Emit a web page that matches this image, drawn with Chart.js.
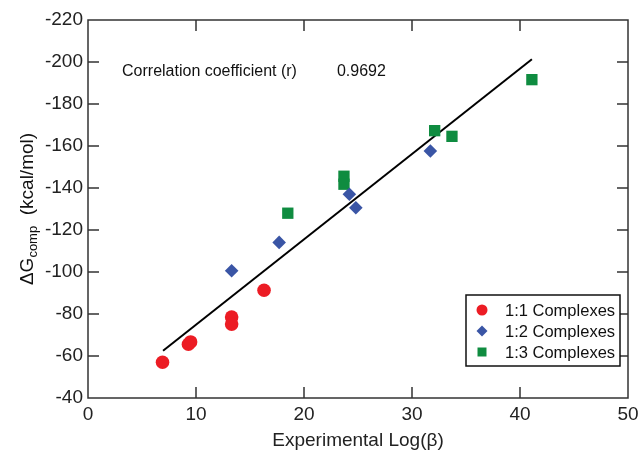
<!DOCTYPE html>
<html>
<head>
<meta charset="utf-8">
<script src="https://cdn.jsdelivr.net/npm/chart.js@4/dist/chart.umd.min.js"></script>
<style>
    body { margin: 0; background: #fff; }
    #wrap { width: 641px; height: 462px; }
</style>
</head>
<body>
<div id="wrap"><canvas id="chartGibbs" width="641" height="462"></canvas></div>
<script>
// данные
const xTicks = [0, 10, 20, 30, 40, 50];
const yTicks = [-40, -60, -80, -100, -120, -140, -160, -180, -200, -220];

const c11X = [6.9, 9.3, 9.5, 13.3, 13.3, 16.3];
const c11Y = [-57, -65.6, -66.7, -78.6, -75.2, -91.3];
const c12X = [13.3, 17.7, 24.2, 24.8, 31.7];
const c12Y = [-100.6, -114.1, -137, -130.6, -157.6];
const c13X = [18.5, 23.7, 23.7, 32.1, 33.7, 41.1];
const c13Y = [-128, -145.6, -141.8, -167.3, -164.6, -191.6];
const fitX = [6.95, 41.1];
const fitY = [-62.5, -201.3];

const seriesNames = ['1:1 Complexes', '1:2 Complexes', '1:3 Complexes'];
const seriesColors = ['#ec1c24', '#3a55a5', '#0f8c40'];
const corrLabel = 'Correlation coefficient (r)';
const corrValue = '0.9692';

const FONT = "'Liberation Sans', Arial, Helvetica, sans-serif";
const toPts = (xs, ys) => xs.map((x, i) => ({x: x, y: ys[i]}));

/*
* рамка, внутренние засечки, подписи и легенда
*/
const framePlugin = {
    id: 'frame',
    afterDraw(chart) {
        const ctx = chart.ctx;
        const a = chart.chartArea;
        const sx = chart.scales.x, sy = chart.scales.y;
        ctx.save();
        ctx.strokeStyle = '#333';
        ctx.lineWidth = 1.5;
        ctx.strokeRect(a.left, a.top, a.right - a.left, a.bottom - a.top);
        ctx.beginPath();
        xTicks.slice(1, -1).forEach(v => {
            const px = sx.getPixelForValue(v);
            ctx.moveTo(px, a.bottom); ctx.lineTo(px, a.bottom - 11);
            ctx.moveTo(px, a.top); ctx.lineTo(px, a.top + 11);
        });
        yTicks.slice(1, -1).forEach(v => {
            const py = sy.getPixelForValue(v);
            ctx.moveTo(a.left, py); ctx.lineTo(a.left + 11, py);
            ctx.moveTo(a.right, py); ctx.lineTo(a.right - 11, py);
        });
        ctx.stroke();

        // подпись коэффициента корреляции
        ctx.fillStyle = '#111';
        ctx.font = '16px ' + FONT;
        ctx.textBaseline = 'middle';
        ctx.textAlign = 'left';
        ctx.fillText(corrLabel, sx.getPixelForValue(3.15), sy.getPixelForValue(-195.5));
        ctx.fillText(corrValue, sx.getPixelForValue(23.05), sy.getPixelForValue(-195.5));

        // подпись оси Y с индексом
        ctx.save();
        ctx.translate(33, (a.top + a.bottom) / 2);
        ctx.rotate(-Math.PI / 2);
        ctx.textBaseline = 'alphabetic';
        const big = '19px ' + FONT, small = '13px ' + FONT;
        ctx.font = big; const w1 = ctx.measureText('\u0394G').width;
        ctx.font = small; const w2 = ctx.measureText('comp').width;
        ctx.font = big; const w3 = ctx.measureText('  (kcal/mol)').width;
        let x0 = -(w1 + w2 + w3) / 2;
        ctx.font = big; ctx.fillText('\u0394G', x0, 0);
        ctx.font = small; ctx.fillText('comp', x0 + w1, 4);
        ctx.font = big; ctx.fillText('  (kcal/mol)', x0 + w1 + w2, 0);
        ctx.restore();

        // легенда внутри области графика
        const lx = 466, ly = 295, lw = 154, lh = 71;
        ctx.fillStyle = '#fff';
        ctx.fillRect(lx, ly, lw, lh);
        ctx.strokeStyle = '#111';
        ctx.lineWidth = 1.5;
        ctx.strokeRect(lx, ly, lw, lh);
        ctx.font = '16.5px ' + FONT;
        seriesNames.forEach((name, i) => {
            const my = ly + 15 + i * 21;
            const mx = lx + 16;
            ctx.fillStyle = seriesColors[i];
            ctx.beginPath();
            if (i === 0) {
                ctx.arc(mx, my, 5.5, 0, Math.PI * 2);
            } else if (i === 1) {
                ctx.moveTo(mx, my - 5.5); ctx.lineTo(mx + 5.5, my);
                ctx.lineTo(mx, my + 5.5); ctx.lineTo(mx - 5.5, my);
                ctx.closePath();
            } else {
                ctx.rect(mx - 4.5, my - 4.5, 9, 9);
            }
            ctx.fill();
            ctx.fillStyle = '#111';
            ctx.fillText(name, lx + 39, my + 1);
        });
        ctx.restore();
    }
};

document.addEventListener('DOMContentLoaded', () => {
    new Chart(
        document.getElementById('chartGibbs'),
        {
            type: 'scatter',
            data: {
                datasets: [
                    {
                        label: seriesNames[0],
                        data: toPts(c11X, c11Y),
                        pointStyle: 'circle',
                        pointRadius: 6.8,
                        backgroundColor: seriesColors[0],
                        borderWidth: 0
                    },
                    {
                        label: seriesNames[1],
                        data: toPts(c12X, c12Y),
                        pointStyle: 'rectRot',
                        pointRadius: 6.8,
                        backgroundColor: seriesColors[1],
                        borderWidth: 0
                    },
                    {
                        label: seriesNames[2],
                        data: toPts(c13X, c13Y),
                        pointStyle: 'rect',
                        pointRadius: 8,
                        backgroundColor: seriesColors[2],
                        borderWidth: 0
                    },
                    {
                        label: 'fit',
                        type: 'line',
                        data: toPts(fitX, fitY),
                        borderColor: '#000',
                        borderWidth: 2,
                        pointRadius: 0,
                        fill: false
                    }
                ]
            },
            options: {
                responsive: false,
                animation: false,
                layout: { padding: { top: 20, right: 13, left: 0, bottom: 0 } },
                plugins: {
                    legend: { display: false },
                    tooltip: { enabled: false }
                },
                scales: {
                    x: {
                        type: 'linear',
                        min: 0,
                        max: 50,
                        afterFit: s => { s.height = 64; s.paddingRight = 0; s.paddingLeft = 0; },
                        afterBuildTicks: s => { s.ticks = xTicks.map(v => ({value: v})); },
                        grid: { display: false, drawTicks: false },
                        border: { display: false },
                        ticks: { padding: 5, color: '#222', font: { family: FONT, size: 19 } },
                        title: {
                            display: true,
                            text: 'Experimental Log(\u03b2)',
                            color: '#222',
                            font: { family: FONT, size: 19 },
                            padding: { top: 10, bottom: 10 }
                        }
                    },
                    y: {
                        type: 'linear',
                        min: -220,
                        max: -40,
                        reverse: true,
                        afterFit: s => { s.width = 88; s.paddingTop = 0; s.paddingBottom = 0; },
                        afterBuildTicks: s => { s.ticks = yTicks.map(v => ({value: v})); },
                        grid: { display: false, drawTicks: false },
                        border: { display: false },
                        ticks: { padding: 5, color: '#222', font: { family: FONT, size: 19 } }
                    }
                }
            },
            plugins: [framePlugin]
        }
    );
});
</script>
</body>
</html>
